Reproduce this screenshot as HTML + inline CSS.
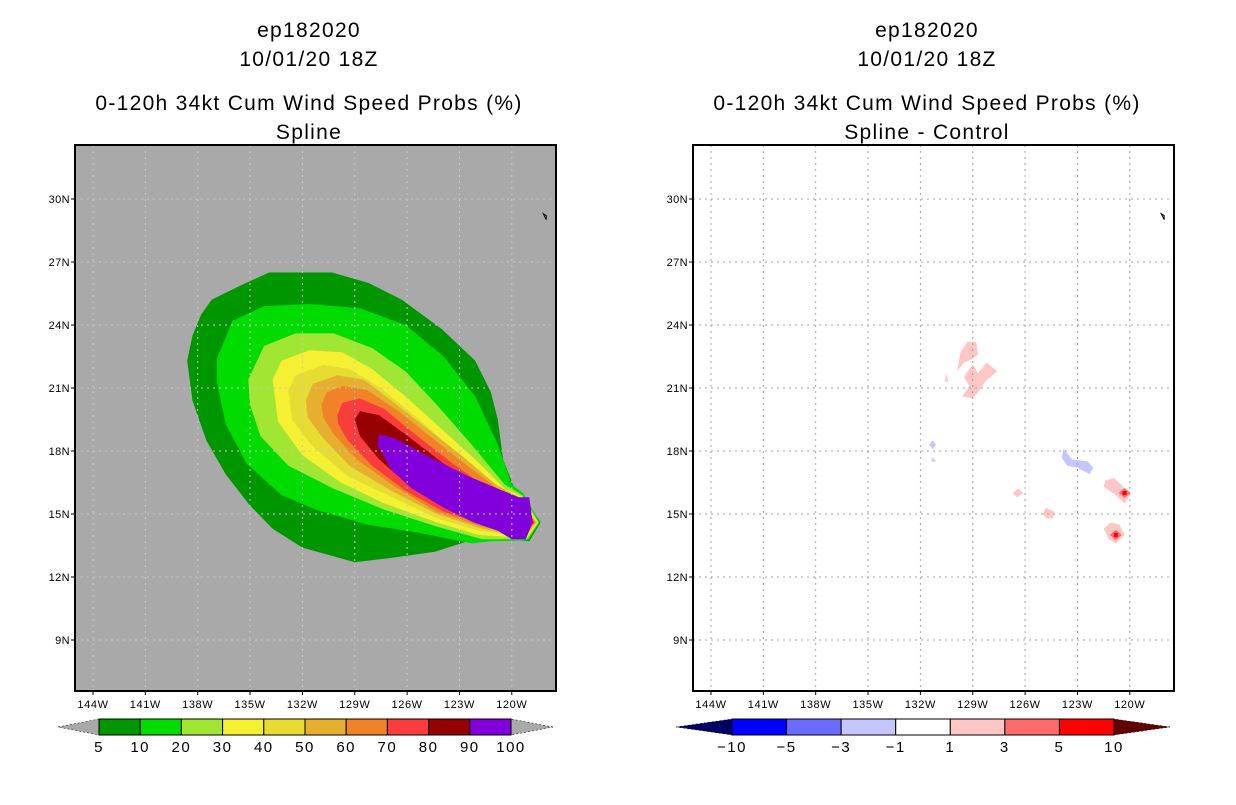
<!DOCTYPE html>
<html><head><meta charset="utf-8">
<style>
body{margin:0;background:#fff;width:1236px;height:800px;overflow:hidden;font-family:"Liberation Sans",sans-serif}
svg text{font-family:"Liberation Sans",sans-serif}
</style></head>
<body>
<svg id="chart" width="1236" height="800" viewBox="0 0 1236 800" xmlns="http://www.w3.org/2000/svg">
<g id="titles" font-size="21" text-anchor="middle" fill="#000" style="font-family:'Liberation Mono',monospace;letter-spacing:1.3px">
<text x="309" y="37">ep182020</text>
<text x="309" y="66">10/01/20 18Z</text>
<text x="309" y="110">0-120h 34kt Cum Wind Speed Probs (%)</text>
<text x="309" y="139">Spline</text>
<text x="927" y="37">ep182020</text>
<text x="927" y="66">10/01/20 18Z</text>
<text x="927" y="110">0-120h 34kt Cum Wind Speed Probs (%)</text>
<text x="927" y="139">Spline - Control</text>
</g>
<g id="left"></g>
<g id="right"></g>
<g id="cbars"></g>
</svg>
<script>
const lonTicks=[144,141,138,135,132,129,126,123,120];
const latTicks=[9,12,15,18,21,24,27,30];
const probLevels=[5,10,20,30,40,50,60,70,80,90,100];
const probColors=["#009600","#00dc00","#a0e632","#f5f032","#e6dc32","#e6af2d","#f08228","#fa3c3c","#960000","#8200dc"];
const diffLevels=[-10,-5,-3,-1,1,3,5,10];
const diffColors=["#0000ff","#6b6bff","#c6c6ff","#ffffff","#ffc6c6","#ff6b6b","#ff0000"];
const c5=[[137.2,25.2],[135.5,25.9],[133.9,26.5],[130.3,26.5],[128.2,26.0],[126.3,25.2],[124.0,23.8],[122.1,22.3],[121.2,20.8],[120.8,19.5],[120.5,17.6],[119.8,16.1],[119.4,15.9],[118.35,14.6],[119.0,13.7],[121.8,13.9],[124.4,13.2],[127.0,12.9],[129.0,12.7],[132.0,13.4],[133.7,14.3],[135.0,15.4],[136.4,16.9],[137.5,18.5],[138.3,20.4],[138.6,22.3],[138.3,23.5],[137.8,24.5]];
const c10=[[136.9,22.4],[136.0,24.2],[134.2,24.9],[131.6,25.0],[128.7,24.8],[126.1,24.0],[123.9,22.5],[122.1,20.6],[120.8,18.3],[120.0,16.4],[119.35,16.0],[118.4,14.6],[119.05,13.75],[121.2,13.7],[122.3,13.6],[125.3,14.1],[128.3,14.5],[131.2,15.2],[133.2,15.9],[135.2,17.4],[136.4,19.3],[136.9,21.3]];
const c20=[[135.1,21.4],[134.2,23.0],[132.4,23.6],[130.2,23.6],[128.0,22.9],[126.1,21.8],[124.3,20.2],[122.3,18.3],[120.4,16.4],[119.4,15.9],[118.45,14.6],[119.1,13.8],[121.7,13.8],[124.3,14.4],[127.3,15.2],[130.2,16.2],[132.8,17.3],[134.4,18.7],[135.0,20.2]];
const c30=[[133.7,21.4],[133.2,22.3],[131.6,22.8],[129.7,22.7],[128.0,21.9],[126.1,20.6],[124.1,19.1],[122.1,17.6],[120.4,16.2],[119.45,15.85],[118.5,14.6],[119.15,13.85],[121.9,14.0],[124.3,14.6],[127.3,15.5],[129.8,16.5],[132.0,17.8],[133.4,19.4]];
const c40=[[132.8,20.9],[132.4,21.6],[130.8,22.1],[129.3,21.9],[127.5,21.0],[125.3,19.5],[123.3,18.0],[121.3,16.6],[120.1,16.0],[119.5,15.8],[118.55,14.6],[119.2,13.9],[121.9,14.2],[124.3,14.8],[127.1,15.9],[129.4,16.8],[131.4,18.2],[132.6,19.5]];
const c50=[[131.8,20.4],[131.4,21.2],[130.0,21.6],[128.5,21.4],[126.9,20.4],[124.9,19.1],[122.9,17.8],[120.9,16.4],[119.5,15.75],[118.6,14.6],[119.25,13.9],[121.7,14.3],[124.3,15.0],[126.9,16.1],[129.3,17.3],[130.8,18.6],[131.7,19.6]];
const c60=[[130.9,20.2],[130.6,20.8],[129.7,21.1],[128.3,20.9],[126.5,19.9],[124.7,18.7],[122.7,17.4],[120.8,16.2],[119.55,15.7],[118.65,14.6],[119.3,13.95],[121.7,14.4],[124.3,15.1],[126.7,16.3],[128.9,17.6],[130.2,18.8],[130.8,19.6]];
const c70=[[130.0,19.7],[129.7,20.3],[128.7,20.5],[127.3,20.0],[125.7,18.9],[123.7,17.6],[121.7,16.4],[120.1,15.95],[119.6,15.65],[118.7,14.6],[119.35,14.0],[121.5,14.5],[123.9,15.1],[126.1,16.1],[128.0,17.3],[129.4,18.5],[129.95,19.3]];
const c80=[[129.0,19.5],[128.7,19.9],[127.6,19.7],[126.1,18.8],[123.9,17.4],[121.7,16.2],[120.1,15.8],[119.6,15.6],[118.75,14.6],[119.4,14.0],[121.3,14.6],[123.3,15.1],[125.7,16.2],[127.6,17.6],[128.7,18.7]];
const c90=[[127.7,18.3],[127.6,18.8],[126.7,18.6],[124.9,17.8],[122.5,16.8],[120.2,16.0],[119.6,15.8],[119.0,15.8],[118.8,14.6],[119.2,13.8],[120.0,13.8],[120.8,14.2],[122.2,14.6],[123.9,15.3],[125.7,16.2],[126.9,17.1]];
const probContours=[c5,c10,c20,c30,c40,c50,c60,c70,c80,c90];
const diffPatches=[
 [[129.7,22.7],[129.3,23.2],[128.8,23.2],[128.7,22.6],[129.0,22.4],[129.5,22.2],[129.9,21.8]],
 [[130.5,21.7],[130.4,21.3],[130.6,21.3]],
 [[129.3,21.8],[129.0,22.1],[128.7,21.7],[128.2,22.2],[127.6,21.8],[128.3,21.3],[128.6,20.9],[129.0,20.5],[129.6,20.6],[129.2,21.1],[129.5,21.5]],
 [[126.4,16.2],[126.1,16.0],[126.5,15.8],[126.7,16.0]],
 [[124.8,15.3],[124.3,15.1],[124.4,14.8],[124.8,14.8],[125.0,15.0]],
 [[121.4,16.6],[120.9,16.7],[120.5,16.4],[120.0,15.9],[120.3,15.5],[120.8,15.9],[121.5,16.3]],
 [[121.5,14.3],[121.1,14.6],[120.6,14.5],[120.3,14.0],[120.8,13.6],[121.2,13.8]]];
const diffPatchBins=[4,4,4,4,4,4,4];
const bluePatches=[
 [[123.8,18.1],[123.3,17.6],[122.4,17.5],[122.1,17.2],[122.3,16.9],[123.0,17.2],[123.6,17.3],[123.9,17.7]],
 [[131.3,18.5],[131.1,18.3],[131.3,18.1],[131.5,18.3]],
 [[131.3,17.7],[131.1,17.5],[131.4,17.5]]];
const redCores=[[120.3,16.0],[120.8,14.0]];

const NS="http://www.w3.org/2000/svg";
function el(t,a,p){const e=document.createElementNS(NS,t);for(const k in a)e.setAttribute(k,a[k]);p.appendChild(e);return e;}
const Y=lat=>199+(30-lat)*21;
function mkX(x0){return lon=>x0+(144-lon)*17.45;}

function panel(g,x0,frameX,bg){
  const X=mkX(x0);
  const pts=p=>p.map(q=>X(q[0]).toFixed(1)+","+Y(q[1]).toFixed(1)).join(" ");
  const r=el("rect",{x:frameX,y:145,width:481,height:546,fill:bg},g);
  
  
  return {X,pts};
}
function grid(g,X,frameX,col){
  lonTicks.forEach(l=>{const x=X(l);const ln=el("line",{x1:x,x2:x,y1:145,y2:691,stroke:col,"stroke-width":1,"stroke-dasharray":"2,4"},g);
    
    
    el("line",{x1:x,x2:x,y1:691,y2:695,stroke:"#000"},g);
    const tx=el("text",{x:x,y:708,"font-size":11,"text-anchor":"middle","letter-spacing":"0.6"},g);tx.textContent=l+"W";
    
    });
  latTicks.forEach(l=>{const y=Y(l);const ln=el("line",{x1:frameX,x2:frameX+481,y1:y,y2:y,stroke:col,"stroke-width":1,"stroke-dasharray":"2,4"},g);
    
    
    el("line",{x1:frameX-4,x2:frameX,y1:y,y2:y,stroke:"#000"},g);
    const tx=el("text",{x:frameX-5,y:y+4,"font-size":11,"text-anchor":"end","letter-spacing":"0.4"},g);tx.textContent=l+"N";
    
    });
  el("path",{d:`M${X(118.2)},${Y(29.3)} l3,2 l0,4 z`,fill:"none",stroke:"#000","stroke-width":1},g);
  const f=el("rect",{x:frameX,y:145,width:481,height:546,fill:"none",stroke:"#000","stroke-width":2},g);
  
  
}
const L=document.getElementById("left");
const lp=panel(L,93,75,"#a9a9a9");
probContours.forEach((c,i)=>{const p=el("polygon",{points:lp.pts(c),fill:probColors[i]},L);
  
  });
grid(L,lp.X,75,"#c8c8c8");
const R=document.getElementById("right");
const rp=panel(R,711,693,"#ffffff");
diffPatches.forEach((c,i)=>{const p=el("polygon",{points:rp.pts(c),fill:diffColors[diffPatchBins[i]]},R);
  
  });
bluePatches.forEach(c=>{const p=el("polygon",{points:rp.pts(c),fill:diffColors[2]},R);
  
  });
redCores.forEach(c=>{const x=rp.X(c[0]),y=Y(c[1]);
  const p=el("polygon",{points:`${x-6},${y} ${x},${y-5} ${x+6},${y} ${x},${y+5}`,fill:diffColors[5]},R);
  
  
  el("rect",{x:x-2,y:y-2,width:4,height:4,fill:diffColors[6]},R);});
grid(R,rp.X,693,"#a0a0a0");
const C=document.getElementById("cbars");
function cbar(x0,x1,levels,colors,lc,rc,lx,rx){
  const n=colors.length,w=(x1-x0)/n;
  el("polygon",{points:`${lx},727 ${x0},719 ${x0},735`,fill:lc,stroke:"#000","stroke-width":0.5,"stroke-dasharray":"2,2"},C);
  el("polygon",{points:`${rx},727 ${x1},719 ${x1},735`,fill:rc,stroke:"#000","stroke-width":0.5,"stroke-dasharray":"2,2"},C);
  colors.forEach((c,i)=>{const r=el("rect",{x:x0+i*w,y:719,width:w,height:16,fill:c,stroke:"#000","stroke-width":1},C);
    
    });
  levels.forEach((v,i)=>{const t=el("text",{x:x0+i*w,y:752,"font-size":15,"text-anchor":"middle","letter-spacing":"1.5"},C);t.textContent=String(v).replace("-","\u2212");
    
    });
}
cbar(99,511,probLevels,probColors,"#a9a9a9","#a9a9a9",58,553);
cbar(732,1114,diffLevels,diffColors,"#000060","#600000",676,1170);
</script>
</body></html>
